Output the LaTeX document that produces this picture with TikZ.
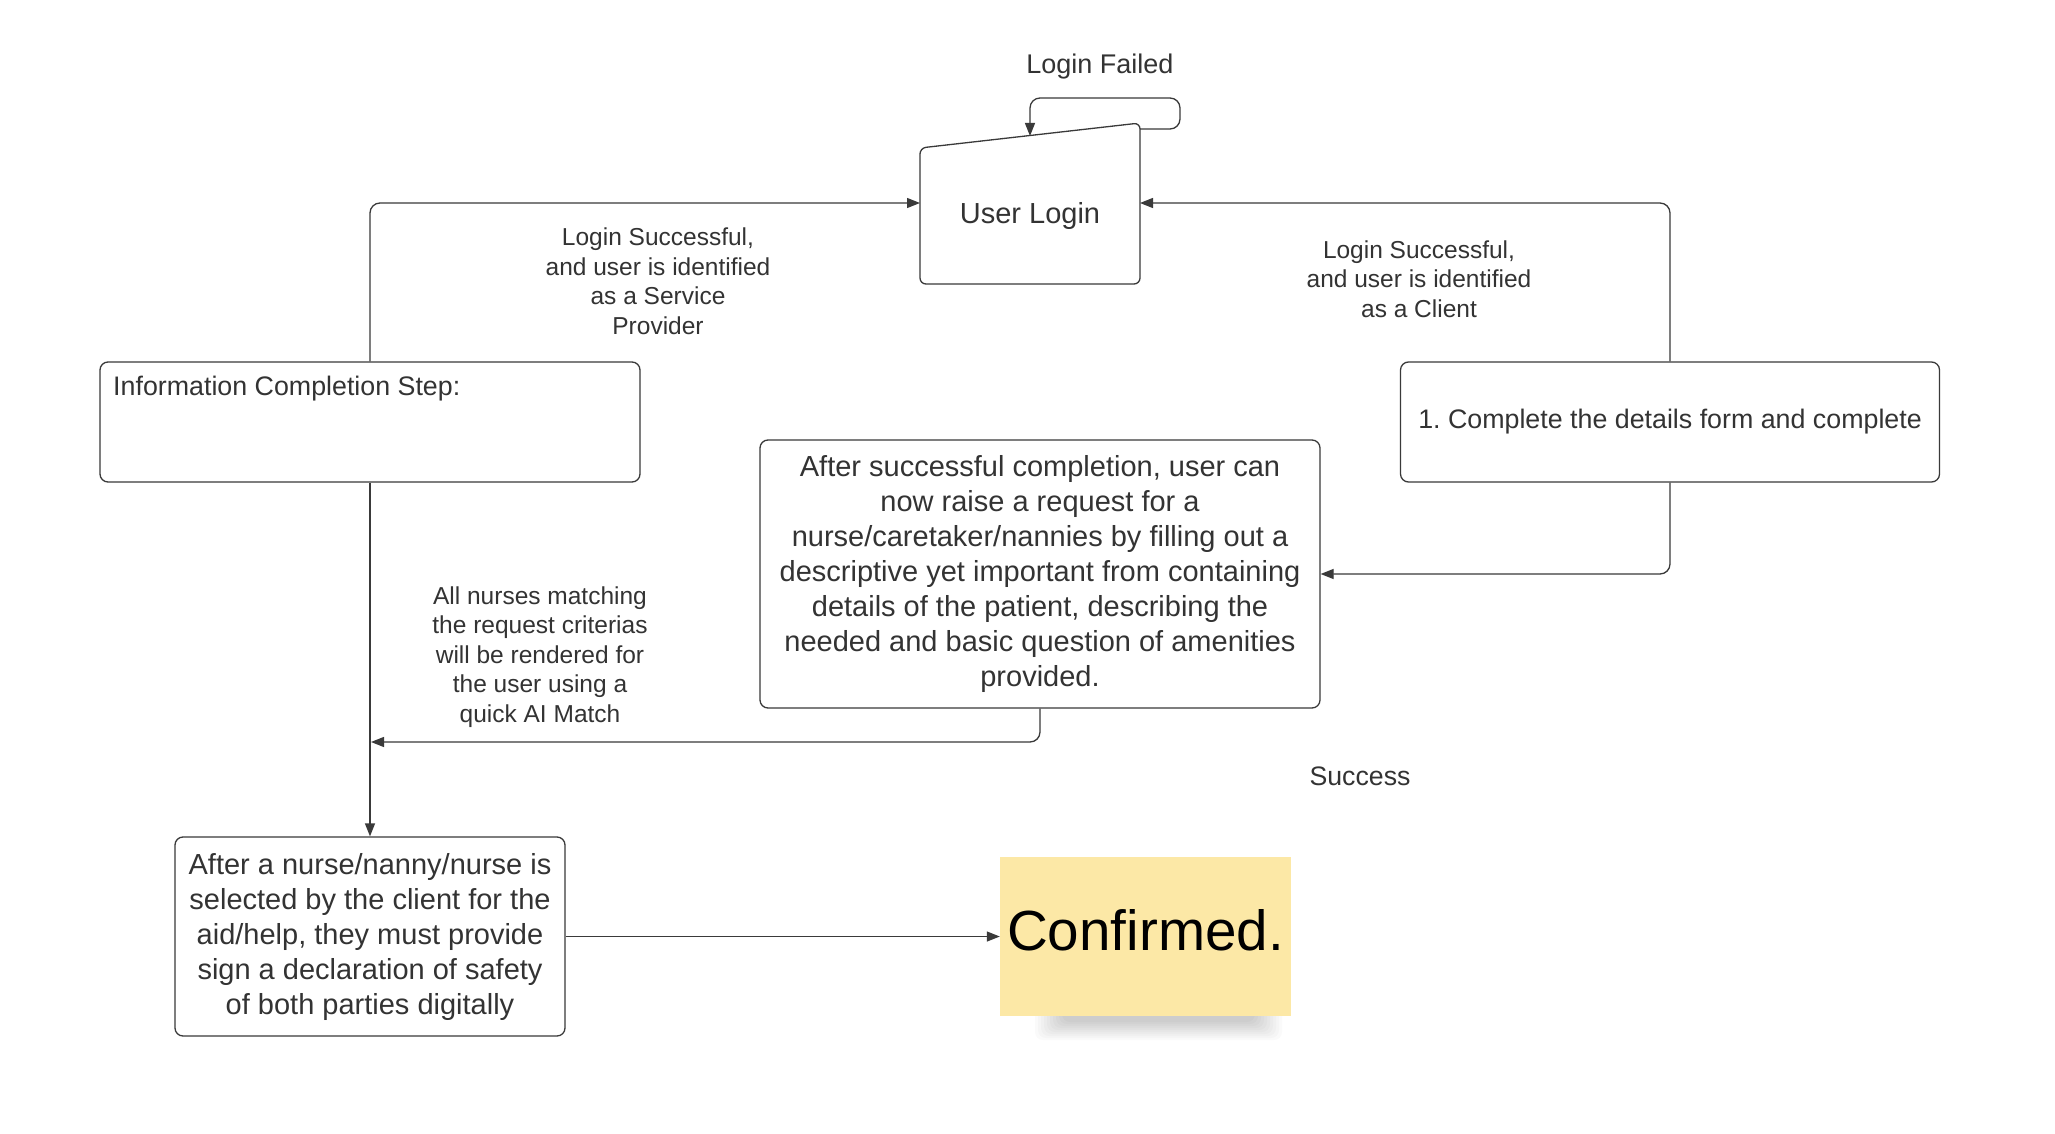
\documentclass[tikz,border=0pt]{standalone}
\usepackage{fontspec}
\setmainfont{Liberation Sans}
\usetikzlibrary{arrows.meta,calc}
\definecolor{ink}{HTML}{333333}
\definecolor{edge}{HTML}{3A3A3A}
\definecolor{stickyfill}{HTML}{FCE8A6}
\frenchspacing
\begin{document}
\begin{tikzpicture}[x=1pt,y=-1pt,
  box/.style={draw=edge, line width=1.3pt, rounded corners=8pt, text=ink, align=center, inner sep=0pt},
  arr/.style={draw=edge, line width=1.3pt, -{Triangle[length=13pt,width=10pt]}, rounded corners=10pt},
  lbl/.style={text=ink, align=center, inner sep=0pt, font=\fontsize{24.5pt}{29.5pt}\selectfont},
  bigtxt/.style={font=\fontsize{29pt}{35pt}\selectfont},
  midtxt/.style={font=\fontsize{26.8pt}{32pt}\selectfont}]
\useasboundingbox (0,0) rectangle (2055,1134);
\fill[white] (0,0) rectangle (2055,1134);

% User Login shape
\draw[edge, line width=1.3pt, rounded corners=6pt] (920,148) -- (1140,123) -- (1140,284) -- (920,284) -- cycle;
\node[text=ink, bigtxt, inner sep=0pt] (login) at (1030,216) {User Login};
\coordinate (loginL) at (920,203);
\coordinate (loginR) at (1140,203);
\coordinate (loginT) at (1030,136);
\coordinate (loginRT) at (1140,129);

% boxes
\node[box, minimum width=540pt, minimum height=120pt] (info) at (370,422) {};
\node[text=ink, midtxt, anchor=west, inner sep=0pt] (infotxt) at (113,389) {Information Completion Step:};
\node[box, midtxt, minimum width=539pt, minimum height=120pt] (client) at (1670,422) {1. Complete the details form and complete};
\node[box, bigtxt, minimum width=560pt, minimum height=268pt] (request) at (1040,574) {After successful completion, user can\\now raise a request for a\\nurse/caretaker/nannies by filling out a\\descriptive yet important from containing\\details of the patient, describing the\\needed and basic question of amenities\\provided.};
\node[box, bigtxt, minimum width=390pt, minimum height=199pt] (nurse) at (370,936.5) {After a nurse/nanny/nurse is\\selected by the client for the\\aid/help, they must provide\\sign a declaration of safety\\of both parties digitally};

% sticky shadow
\foreach \i in {0,...,9} {
  \fill[black, opacity=0.02, rounded corners=8pt] (1035+\i*3,1008) rectangle (1282-\i*3,1040-\i*2);
}
\node[fill=stickyfill, minimum width=291pt, minimum height=159pt, inner sep=0pt] (sticky) at (1145.5,936.5) {};
\node[text=black, font=\fontsize{56.6pt}{60pt}\selectfont, inner sep=0pt] (conftxt) at (1145.5,930) {Confirmed.};

% labels
\node[lbl, font=\fontsize{27pt}{32pt}\selectfont] (failed) at (1100,67) {Login Failed};
\node[lbl] (splbl) at (658,281) {Login Successful,\\and user is identified\\as a Service\\Provider};
\node[lbl] (cllbl) at (1419,279) {Login Successful,\\and user is identified\\as a Client};
\node[lbl] (matchlbl) at (540,657) {All nurses matching\\the request criterias\\will be rendered for\\the user using a\\quick AI Match};
\node[lbl, font=\fontsize{26.7pt}{32pt}\selectfont] (success) at (1360,776) {Success};

% connectors
\draw[arr] (loginRT) -- (1180,129) -- (1180,98) -- (1030,98) -- (loginT);
\draw[arr] (info.north) |- (loginL);
\draw[arr] (client.north) |- (loginR);
\draw[arr] (client.south) |- (request.east);
\coordinate (join) at (371,742);
\draw[arr] (request.south) |- (join);
\draw[arr] (info.south) -- (nurse.north);
\draw[arr] (nurse.east) -- (sticky.west);
\end{tikzpicture}
\end{document}
